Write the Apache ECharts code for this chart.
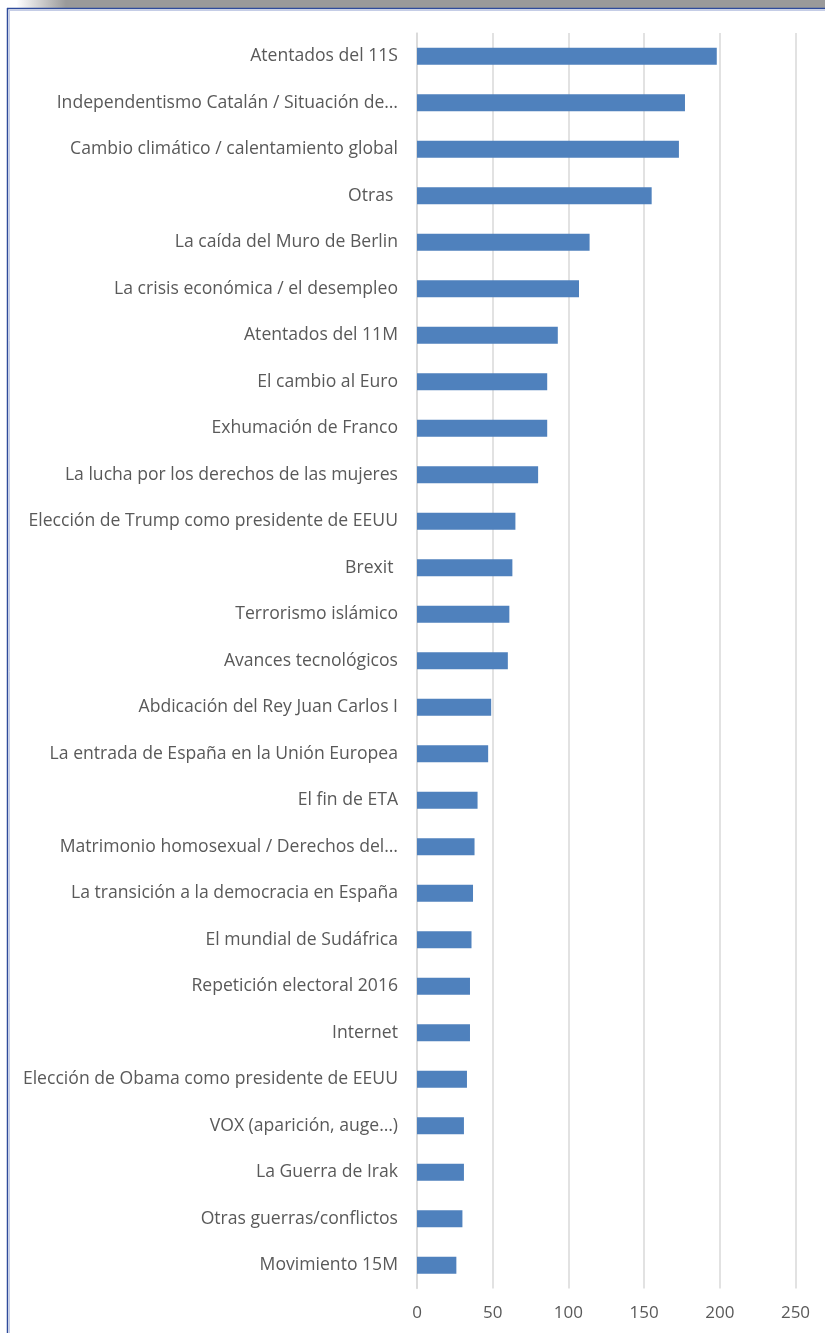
<!DOCTYPE html>
<html>
<head>
<meta charset="utf-8">
<script src="https://cdn.jsdelivr.net/npm/echarts@6/dist/echarts.min.js"></script>
<style>
html,body{margin:0;padding:0;background:#fff;}
#c{width:825px;height:1333px;}
</style>
</head>
<body>
<div id="c"></div>
<script>
const categories = [
  "Atentados del 11S",
  "Independentismo Catalán / Situación de…",
  "Cambio climático / calentamiento global",
  "Otras ",
  "La caída del Muro de Berlin",
  "La crisis económica / el desempleo",
  "Atentados del 11M",
  "El cambio al Euro",
  "Exhumación de Franco",
  "La lucha por los derechos de las mujeres",
  "Elección de Trump como presidente de EEUU",
  "Brexit ",
  "Terrorismo islámico",
  "Avances tecnológicos",
  "Abdicación del Rey Juan Carlos I",
  "La entrada de España en la Unión Europea",
  "El fin de ETA",
  "Matrimonio homosexual / Derechos del…",
  "La transición a la democracia en España",
  "El mundial de Sudáfrica",
  "Repetición electoral 2016",
  "Internet",
  "Elección de Obama como presidente de EEUU",
  "VOX (aparición, auge…)",
  "La Guerra de Irak",
  "Otras guerras/conflictos",
  "Movimiento 15M"
];
const values = [198, 177, 173, 155, 114, 107, 93, 86, 86, 80, 65, 63, 61, 60, 49, 47, 40, 38, 37, 36, 35, 35, 33, 31, 31, 30, 26];
const xTicks = [0, 50, 100, 150, 200, 250];

const chart = echarts.init(document.getElementById('c'), null, {renderer: 'canvas'});
chart.setOption({
  animation: false,
  backgroundColor: '#ffffff',
  grid: {left: 417, right: 29.5, top: 33, bottom: 44.5, containLabel: false},
  xAxis: {
    type: 'value',
    min: xTicks[0],
    max: xTicks[xTicks.length - 1],
    interval: 50,
    axisLine: {show: false},
    axisTick: {show: false},
    splitLine: {show: true, lineStyle: {color: '#d9d9d9', width: 1.5}},
    axisLabel: {color: '#595959', fontSize: 17, fontFamily: 'Open Sans', margin: 16}
  },
  yAxis: {
    type: 'category',
    inverse: true,
    data: categories,
    axisLine: {show: true, lineStyle: {color: '#d9d9d9', width: 1.5}},
    axisTick: {show: false},
    axisLabel: {color: '#595959', fontSize: 17.6, fontFamily: 'Open Sans', margin: 19}
  },
  series: [{
    type: 'bar',
    data: values,
    barWidth: 17,
    itemStyle: {color: '#4f81bd'}
  }],
  graphic: [
    {type: 'rect', shape: {x: 0, y: 0, width: 825, height: 8}, silent: true,
      style: {fill: new echarts.graphic.LinearGradient(0, 0, 1, 0, [
        {offset: 0, color: '#ffffff'}, {offset: 0.02, color: '#ffffff'},
        {offset: 0.08, color: '#9a9a9a'}, {offset: 1, color: '#9a9a9a'}])}},
    {type: 'line', shape: {x1: 7, y1: 8.5, x2: 825, y2: 8.5}, silent: true,
      style: {stroke: '#2f4b9b', lineWidth: 1.5}},
    {type: 'line', shape: {x1: 7.5, y1: 8, x2: 7.5, y2: 1333}, silent: true,
      style: {stroke: '#2f4b9b', lineWidth: 1.5}},
    {type: 'line', shape: {x1: 9, y1: 10.5, x2: 825, y2: 10.5}, silent: true,
      style: {stroke: '#c5cde6', lineWidth: 1}},
    {type: 'line', shape: {x1: 9.5, y1: 10, x2: 9.5, y2: 1333}, silent: true,
      style: {stroke: '#c5cde6', lineWidth: 1}}
  ]
});
</script>
</body>
</html>
